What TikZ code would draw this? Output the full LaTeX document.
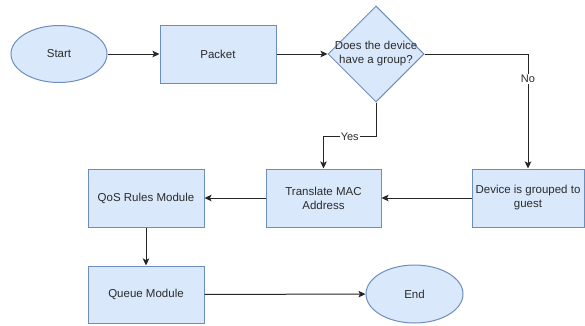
\documentclass[tikz,border=0pt]{standalone}
\usepackage{fontspec}
\setmainfont{Liberation Sans}
\usetikzlibrary{shapes.geometric,arrows.meta}
\definecolor{boxfill}{HTML}{DAE8FC}
\definecolor{boxline}{HTML}{6C8EBF}
\definecolor{txt}{HTML}{2B2B2B}
\begin{document}
\begin{tikzpicture}[x=1pt,y=-1pt,
  font=\fontsize{11.5}{14}\selectfont,
  proc/.style={draw=boxline, fill=boxfill, line width=1pt, rectangle,
    minimum width=116pt, minimum height=58pt, inner sep=0pt, text=txt, align=center},
  term/.style={draw=boxline, fill=boxfill, line width=1pt, ellipse,
    minimum width=96pt, minimum height=57pt, inner sep=0pt, text=txt},
  dec/.style={draw=boxline, fill=boxfill, line width=1pt, diamond,
    minimum width=96pt, minimum height=96pt, inner sep=0pt, text=txt},
  flow/.style={draw=black!85, line width=1pt, -{Stealth[length=7pt,width=6.5pt,inset=1.5pt]}},
  lbl/.style={fill=white, text=txt, inner sep=1pt, font=\fontsize{11}{13}\selectfont}]
\useasboundingbox[fill=white] (0,0) rectangle (585,325);
\node[term] (start) at (59,54) {Start};
\node[proc] (packet) at (218,54) {Packet};
\node[dec] (dec) at (376,54) {\makebox[0pt]{\begin{tabular}{@{}c@{}}Does the device\\have a group?\end{tabular}}};
\node[proc, minimum width=112pt] (device) at (528,198) {Device is grouped to\\guest};
\node[proc, minimum width=115pt] (translate) at (323.5,198) {Translate MAC\\Address};
\node[proc] (qos) at (146,198) {QoS Rules Module};
\node[proc, minimum height=57pt] (queue) at (146,294.5) {Queue Module};
\node[term, minimum width=97pt, minimum height=58pt] (end) at (414.5,294) {End};
\draw[flow] (start) -- (packet);
\draw[flow] (packet) -- (dec);
\draw[flow] (dec.east) -| node[lbl, pos=0.61] {No} (device.north);
\draw[flow] (dec.south) -- ++(0,34) -| node[lbl, pos=0.25] {Yes} (translate.north);
\draw[flow] (device) -- (translate);
\draw[flow] (translate) -- (qos);
\draw[flow] (qos) -- (queue);
\draw[flow] (queue) -- (end);
\end{tikzpicture}
\end{document}
